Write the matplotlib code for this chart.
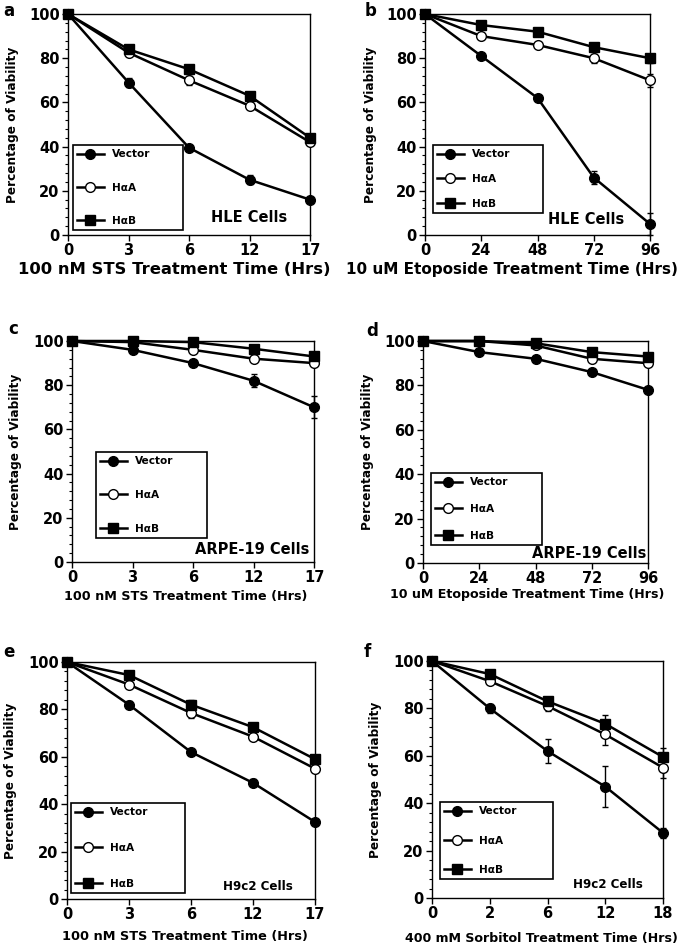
import matplotlib
matplotlib.use("Agg")
import matplotlib.pyplot as plt
from matplotlib.ticker import MultipleLocator

plt.rcParams["font.family"] = "DejaVu Sans"
plt.rcParams["font.weight"] = "bold"

# x categories (plotted at equal spacing)
x_sts = ["0", "3", "6", "12", "17"]
x_eto = ["0", "24", "48", "72", "96"]
x_sorb = ["0", "2", "6", "12", "18"]

series_names = ["Vector", "HαA", "HαB"]

# panel a: HLE, STS
a_vector = [100, 69, 39.5, 25, 16]
a_vector_err = [0, 2, 1, 2, 1]
a_haa = [100, 82.5, 70, 58.5, 42]
a_haa_err = [0, 1, 2, 1.5, 1.5]
a_hab = [100, 84, 75, 63, 44]
a_hab_err = [0, 1, 2, 1.5, 1]

# panel b: HLE, etoposide
b_vector = [100, 81, 62, 26, 5]
b_vector_err = [0, 1, 1, 3, 5]
b_haa = [100, 90, 86, 80, 70]
b_haa_err = [0, 1, 1, 2, 3]
b_hab = [100, 95, 92, 85, 80]
b_hab_err = [0, 1, 1, 1, 2]

# panel c: ARPE-19, STS
c_vector = [100, 96, 90, 82, 70]
c_vector_err = [0, 1, 1, 3, 5]
c_haa = [100, 99.5, 96, 92, 90]
c_haa_err = [0, 0.5, 1, 1, 1]
c_hab = [100, 100, 99.5, 96.5, 93]
c_hab_err = [0, 0.5, 0.5, 1, 1]

# panel d: ARPE-19, etoposide
d_vector = [100, 95, 92, 86, 78]
d_vector_err = [0, 0.5, 0.5, 1, 1]
d_haa = [100, 100, 98, 92, 90]
d_haa_err = [0, 0.5, 0.5, 1, 1]
d_hab = [100, 100, 99, 95, 93]
d_hab_err = [0, 0.5, 0.5, 1, 1]

# panel e: H9c2, STS
e_vector = [100, 82, 62, 49, 32.5]
e_vector_err = [0, 1.5, 1, 1.5, 1]
e_haa = [100, 90.5, 78.5, 68.5, 55]
e_haa_err = [0, 1, 2, 1.5, 1]
e_hab = [100, 94.5, 82, 72.5, 59]
e_hab_err = [0, 1, 2, 1.5, 1]

# panel f: H9c2, sorbitol
f_vector = [100, 80, 62, 47, 27.5]
f_vector_err = [0, 2, 5, 8.5, 2]
f_haa = [100, 91.5, 81, 69, 55]
f_haa_err = [0, 1, 2, 4.5, 4.5]
f_hab = [100, 94.5, 83, 73.5, 59.5]
f_hab_err = [0, 1, 1, 3.8, 4]

W, H = 685, 949
fig = plt.figure(figsize=(W / 100, H / 100), dpi=100)

# positions are in pixels of the 685x949 figure
panels = [
    dict(letter="a", xt=x_sts, ys=[(a_vector, a_vector_err), (a_haa, a_haa_err), (a_hab, a_hab_err)],
         xlabel="100 nM STS Treatment Time (Hrs)", xlab_fs=11.8, cells="HLE Cells", cell_fs=10.5,
         box=(68, 310, 14, 235), leg=(73, 183, 145, 230), cell_xy=(249, 218),
         letter_xy=(3, 16), ylab_x=19, xlab=(174, 262)),
    dict(letter="b", xt=x_eto, ys=[(b_vector, b_vector_err), (b_haa, b_haa_err), (b_hab, b_hab_err)],
         xlabel="10 uM Etoposide Treatment Time (Hrs)", xlab_fs=11.0, cells="HLE Cells", cell_fs=10.5,
         box=(425, 650, 14, 235), leg=(433, 543, 145, 213), cell_xy=(586, 219),
         letter_xy=(365, 16), ylab_x=377, xlab=(512, 262)),
    dict(letter="c", xt=x_sts, ys=[(c_vector, c_vector_err), (c_haa, c_haa_err), (c_hab, c_hab_err)],
         xlabel="100 nM STS Treatment Time (Hrs)", xlab_fs=9.2, cells="ARPE-19 Cells", cell_fs=10.5,
         box=(72, 314, 341, 562), leg=(96, 207, 452, 538), cell_xy=(252, 549),
         letter_xy=(8, 334), ylab_x=22, xlab=(186, 590)),
    dict(letter="d", xt=x_eto, ys=[(d_vector, d_vector_err), (d_haa, d_haa_err), (d_hab, d_hab_err)],
         xlabel="10 uM Etoposide Treatment Time (Hrs)", xlab_fs=9.1, cells="ARPE-19 Cells", cell_fs=10.5,
         box=(423, 648, 341, 563), leg=(431, 542, 473, 545), cell_xy=(589, 553),
         letter_xy=(366, 336), ylab_x=374, xlab=(527, 588)),
    dict(letter="e", xt=x_sts, ys=[(e_vector, e_vector_err), (e_haa, e_haa_err), (e_hab, e_hab_err)],
         xlabel="100 nM STS Treatment Time (Hrs)", xlab_fs=9.3, cells="H9c2 Cells", cell_fs=8.6,
         box=(67, 315, 662, 899), leg=(71, 185, 803, 893), cell_xy=(258, 886),
         letter_xy=(3, 657), ylab_x=17, xlab=(185, 930)),
    dict(letter="f", xt=x_sorb, ys=[(f_vector, f_vector_err), (f_haa, f_haa_err), (f_hab, f_hab_err)],
         xlabel="400 mM Sorbitol Treatment Time (Hrs)", xlab_fs=9.1, cells="H9c2 Cells", cell_fs=8.6,
         box=(432, 663, 661, 898), leg=(440, 553, 802, 879), cell_xy=(608, 885),
         letter_xy=(364, 657), ylab_x=382, xlab=(541, 932)),
]

styles = [
    dict(marker="o", mfc="black", ms=7),
    dict(marker="o", mfc="white", ms=7),
    dict(marker="s", mfc="black", ms=6.5),
]

for p in panels:
    l, r, t, b = p["box"]
    ax = fig.add_axes([l / W, 1 - b / H, (r - l) / W, (b - t) / H])
    xs = list(range(len(p["xt"])))
    for (vals, errs), st, name in zip(p["ys"], styles, series_names):
        ax.errorbar(xs, vals, yerr=errs, fmt="none", ecolor="black", elinewidth=1.0,
                    capsize=2.5, capthick=1.0, clip_on=False, zorder=2)
        ax.plot(xs, vals, color="black", lw=1.8, marker=st["marker"], ms=st["ms"],
                mfc=st["mfc"], mec="black", mew=1.0, label=name, clip_on=False, zorder=3)

    ax.set_xlim(0, len(xs) - 1)
    ax.set_ylim(0, 100)
    ax.set_xticks(xs)
    ax.set_xticklabels(p["xt"])
    ax.yaxis.set_major_locator(MultipleLocator(20))
    ax.yaxis.set_minor_locator(MultipleLocator(4))
    ax.tick_params(which="major", direction="out", length=4, width=1.0, labelsize=10.5, pad=2)
    ax.tick_params(which="minor", direction="out", length=2.5, width=0.8)
    ax.tick_params(axis="x", which="minor", bottom=False)
    for s in ax.spines.values():
        s.set_linewidth(1.0)

    ax.set_ylabel("Percentage of Viability", fontsize=8.7, fontweight="bold")
    ax.yaxis.set_label_coords((p["ylab_x"] - l) / (r - l), 0.5)
    ax.set_xlabel(p["xlabel"], fontsize=p["xlab_fs"], fontweight="bold")
    ax.xaxis.set_label_coords((p["xlab"][0] - l) / (r - l), -(p["xlab"][1] - b) / (b - t))

    cx, cy = p["cell_xy"]
    ax.text((cx - l) / (r - l), (b - cy) / (b - t), p["cells"], transform=ax.transAxes,
            ha="center", va="center", fontsize=p["cell_fs"], fontweight="bold")

    lx0, lx1, ly0, ly1 = p["leg"]
    leg_h = ly1 - ly0
    fs_px = 7.6 * 100 / 72
    spacing = (leg_h - 2 * 0.4 * fs_px - 3 * 0.95 * fs_px) / (2 * fs_px)
    leg = ax.legend(loc="lower left",
                    bbox_to_anchor=((lx0 - l) / (r - l), (b - ly1) / (b - t),
                                    (lx1 - lx0) / (r - l), leg_h / (b - t)),
                    mode="expand", frameon=True, fancybox=False,
                    edgecolor="black", framealpha=1, borderpad=0.4,
                    labelspacing=spacing, handlelength=2.5, handletextpad=0.8,
                    borderaxespad=0, prop={"weight": "bold", "size": 7.6})
    leg.get_frame().set_linewidth(1.2)

    fig.text(p["letter_xy"][0] / W, 1 - p["letter_xy"][1] / H, p["letter"],
             fontsize=12, fontweight="bold", ha="left", va="baseline")

fig.savefig("out.png", dpi=100)
